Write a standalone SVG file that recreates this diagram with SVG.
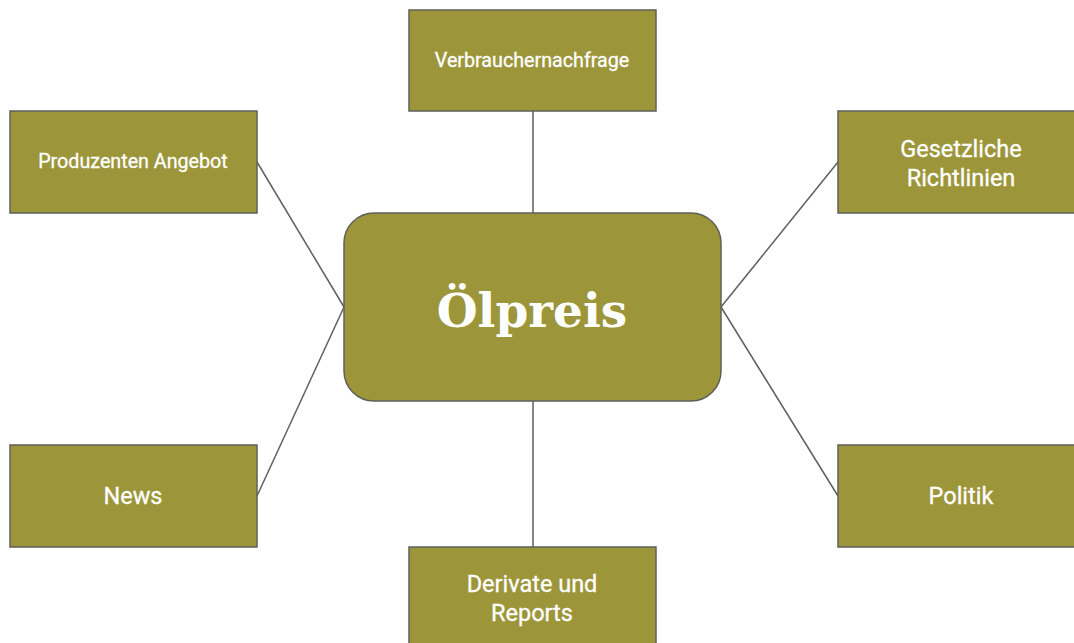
<svg xmlns="http://www.w3.org/2000/svg" width="1074" height="643" viewBox="0 0 1074 643">
<style>
.box{fill:#9c9539;stroke:#5f5f5a;stroke-width:1.5}
.lbl{font-family:Roboto,"Liberation Sans",sans-serif;font-size:19.7px;fill:#ffffff;text-anchor:middle;stroke:#ffffff;stroke-width:0.3}
.big{font-size:23.5px}
.title{font-family:"DejaVu Serif","Liberation Serif",serif;font-weight:bold;font-size:47px;fill:#ffffff;text-anchor:middle}
.conn{stroke:#5f5f5f;stroke-width:1.5;fill:none}
</style>
<rect width="1074" height="643" fill="#ffffff"/>
<g id="connectors">
<line class="conn" x1="533" y1="111" x2="533" y2="213"/>
<line class="conn" x1="533" y1="401" x2="533" y2="547"/>
<line class="conn" x1="257" y1="162" x2="344" y2="307"/>
<line class="conn" x1="257" y1="496" x2="344" y2="307"/>
<line class="conn" x1="838" y1="162" x2="721" y2="307"/>
<line class="conn" x1="838" y1="496" x2="721" y2="307"/>
</g>
<g id="center">
<rect class="box" x="344" y="213" width="377" height="188" rx="30"/>
<text class="title" x="532" y="327">Ölpreis</text>
</g>
<g id="verbrauchernachfrage">
<rect class="box" x="409" y="10" width="247" height="101"/>
<text class="lbl" x="532" y="67">Verbrauchernachfrage</text>
</g>
<g id="produzenten">
<rect class="box" x="10" y="111" width="247" height="102"/>
<text class="lbl" x="133" y="168">Produzenten Angebot</text>
</g>
<g id="gesetzliche">
<rect class="box" x="838" y="111" width="250" height="102"/>
<text class="lbl big" x="961" y="157">Gesetzliche</text>
<text class="lbl big" x="961" y="186">Richtlinien</text>
</g>
<g id="news">
<rect class="box" x="10" y="445" width="247" height="102"/>
<text class="lbl big" x="133" y="504">News</text>
</g>
<g id="politik">
<rect class="box" x="838" y="445" width="250" height="102"/>
<text class="lbl big" x="961" y="504">Politik</text>
</g>
<g id="derivate">
<rect class="box" x="409" y="547" width="247" height="110"/>
<text class="lbl big" x="532" y="592">Derivate und</text>
<text class="lbl big" x="532" y="621">Reports</text>
</g>
</svg>
